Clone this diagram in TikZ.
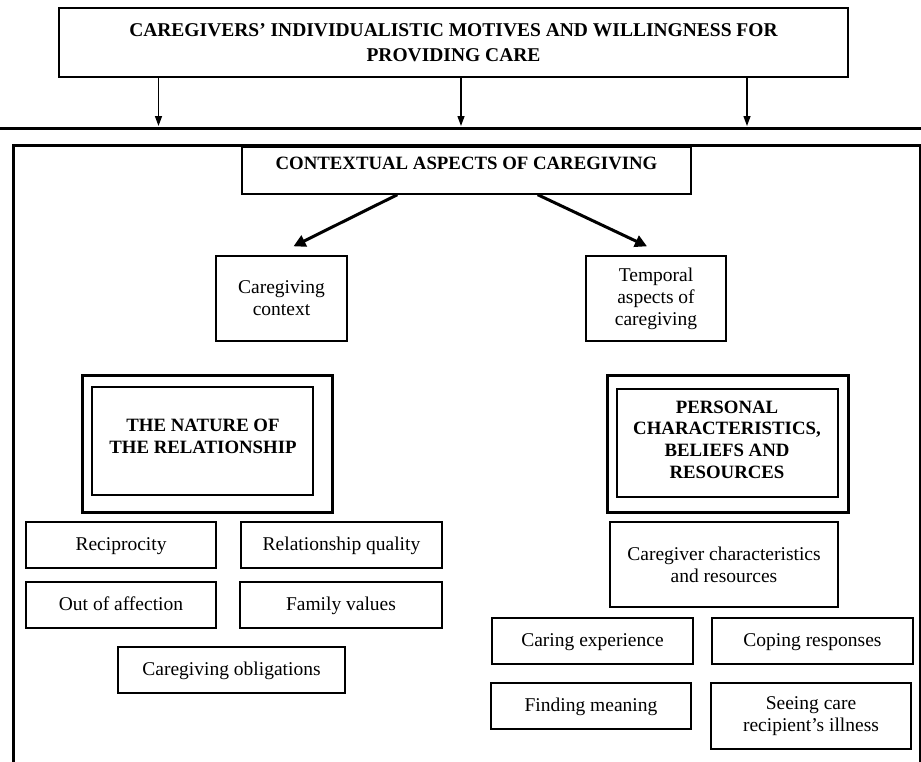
\documentclass[tikz,border=0pt]{standalone}
\usepackage{fontspec}
\setmainfont{Liberation Serif}
\usetikzlibrary{arrows.meta}
\begin{document}
\begin{tikzpicture}[x=1pt,y=-1pt,
  box/.style={draw, line width=1.4pt, inner sep=0pt, align=center, font=\fontsize{19.5}{22}\selectfont},
  oneline/.style={box, text height=14.5pt, text depth=4pt},
  plainbox/.style={draw, line width=1.4pt, inner sep=0pt},
  ttl/.style={font=\fontsize{18.8}{22}\selectfont\bfseries, align=center, inner sep=0pt},
  outerbox/.style={draw, line width=3pt, inner sep=0pt},
  thinarrow/.style={line width=1.3pt, -{Triangle[length=10pt,width=7pt]}},
  thickarrow/.style={line width=3pt, -{Triangle[length=12pt,width=12pt]}},
]
\useasboundingbox (0,0) rectangle (921,761);
\fill[white] (0,0) rectangle (921,761);

% top box
\node[box, minimum width=789pt, minimum height=69pt, font=\fontsize{19.5}{25}\selectfont\bfseries] (top) at (453.5,42.5)
  {CAREGIVERS’ INDIVIDUALISTIC MOTIVES AND WILLINGNESS FOR\\PROVIDING CARE};

% horizontal line
\coordinate (hl) at (0,128);
\coordinate (hr) at (921,128);
\draw[line width=3pt] (hl) -- (hr);

% arrows to the line
\coordinate (a1) at (158.5,126);
\coordinate (a2) at (461,126);
\coordinate (a3) at (747,126);
\draw[thinarrow] (top.south -| a1) -- (a1);
\draw[thinarrow] (top.south -| a2) -- (a2);
\draw[thinarrow] (top.south -| a3) -- (a3);

% big frame
\coordinate (fbl) at (13,780);
\coordinate (ftl) at (13,145);
\coordinate (ftr) at (920,145);
\coordinate (fbr) at (920,780);
\draw[line width=3pt] (fbl) -- (ftl) -- (ftr) -- (fbr);

% contextual aspects
\node[plainbox, minimum width=449pt, minimum height=47pt] (ctx) at (466.5,170.5) {};
\node[ttl] (ctxt) at (466.5,163) {CONTEXTUAL ASPECTS OF CAREGIVING};

\node[box, minimum width=131pt, minimum height=85pt] (cc) at (281.5,298.5) {Caregiving\\context};
\node[box, minimum width=140pt, minimum height=85pt] (temp) at (656,298.5) {Temporal\\aspects of\\caregiving};

\draw[thickarrow] ([xshift=156pt]ctx.south west) -- ([xshift=12pt,yshift=9pt]cc.north);
\draw[thickarrow] ([xshift=-154pt]ctx.south east) -- ([xshift=-9pt,yshift=9pt]temp.north);

% nature of the relationship
\node[outerbox, minimum width=250pt, minimum height=137pt] (natout) at (207,443.5) {};
\node[plainbox, minimum width=221pt, minimum height=108pt] (natin) at (202.5,441) {};
\node[ttl] (natt) at (203,436) {THE NATURE OF\\THE RELATIONSHIP};

\node[oneline, minimum width=190pt, minimum height=46pt] (recip) at (121,545) {Reciprocity};
\node[oneline, minimum width=201pt, minimum height=46pt] (relq) at (341.5,545) {Relationship quality};
\node[oneline, minimum width=190pt, minimum height=46pt] (ooa) at (121,605) {Out of affection};
\node[oneline, minimum width=202pt, minimum height=46pt] (famv) at (341,605) {Family values};
\node[oneline, minimum width=227pt, minimum height=46pt] (oblig) at (231.5,670) {Caregiving obligations};

% personal characteristics
\node[outerbox, minimum width=241pt, minimum height=137pt] (perout) at (727.5,443.5) {};
\node[plainbox, minimum width=221pt, minimum height=108pt] (perin) at (727.5,443) {};
\node[ttl, font=\fontsize{18.8}{21.7}\selectfont\bfseries] (pert) at (727,439.5) {PERSONAL\\CHARACTERISTICS,\\BELIEFS AND\\RESOURCES};

\node[box, minimum width=228pt, minimum height=85pt] (cgc) at (724,564.5) {Caregiver characteristics\\and resources};
\node[oneline, minimum width=201pt, minimum height=46pt] (care) at (592.5,641) {Caring experience};
\node[oneline, minimum width=201pt, minimum height=46pt] (coping) at (812.5,641) {Coping responses};
\node[oneline, minimum width=200pt, minimum height=46pt] (findm) at (591,706) {Finding meaning};
\node[box, minimum width=200pt, minimum height=66pt] (seeing) at (811,716) {Seeing care\\recipient’s illness};
\end{tikzpicture}
\end{document}
